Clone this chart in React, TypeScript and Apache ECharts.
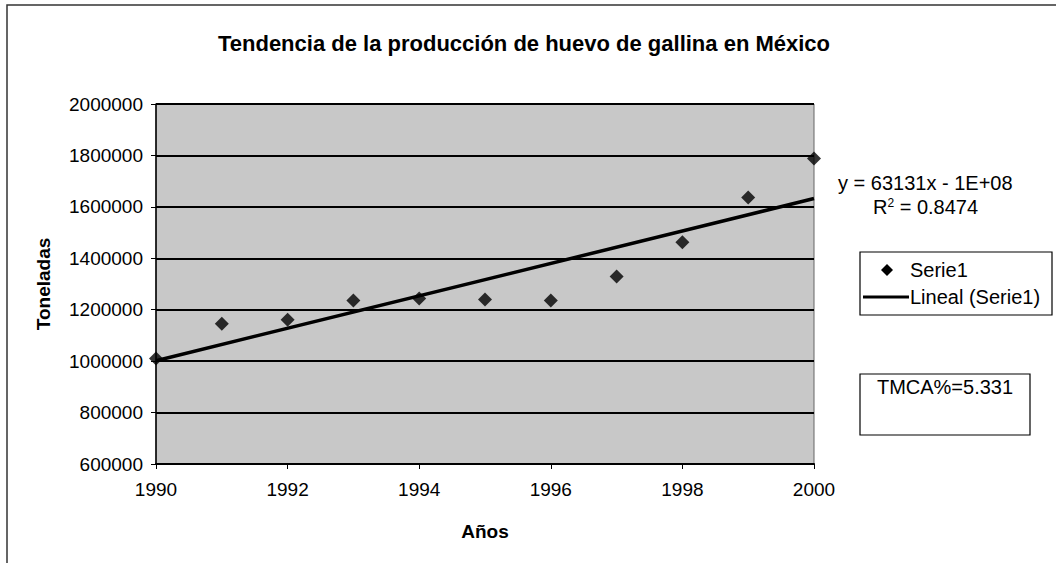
import React, { useEffect, useRef } from "react";
import * as echarts from "echarts";

const years = [1990, 1991, 1992, 1993, 1994, 1995, 1996, 1997, 1998, 1999, 2000];
const production = [1010000, 1145000, 1161000, 1236000, 1244000, 1240000, 1236000, 1329000, 1462000, 1636000, 1788000];
const equationText = "y = 63131x - 1E+08";
const r2Value = "0.8474";
const tmcaLabel = "TMCA%=5.331";
const seriesName = "Serie1";
const trendName = "Lineal (Serie1)";

function linearFit(xs: number[], ys: number[]) {
  const n = xs.length;
  const mx = xs.reduce((a, b) => a + b, 0) / n;
  const my = ys.reduce((a, b) => a + b, 0) / n;
  let num = 0;
  let den = 0;
  for (let i = 0; i < n; i++) {
    num += (xs[i] - mx) * (ys[i] - my);
    den += (xs[i] - mx) * (xs[i] - mx);
  }
  const slope = num / den;
  const intercept = my - slope * mx;
  return { slope, intercept };
}

export default function App() {
  const ref = useRef<HTMLDivElement>(null);
  useEffect(() => {
    if (!ref.current) return;
    const chart = echarts.init(ref.current, undefined, { renderer: "svg" });
    const fit = linearFit(years, production);
    const x0 = years[0];
    const x1 = years[years.length - 1];
    const trend = [
      [x0, fit.slope * x0 + fit.intercept],
      [x1, fit.slope * x1 + fit.intercept],
    ];
    const font = "'Liberation Sans', Arial, sans-serif";
    chart.setOption({
      animation: false,
      backgroundColor: "#ffffff",
      textStyle: { fontFamily: font },
      title: {
        text: "Tendencia de la producción de huevo de gallina en México",
        left: 519,
        textAlign: "center",
        top: 27,
        textStyle: { fontSize: 22, fontWeight: "bold", color: "#000", fontFamily: font },
      },
      grid: {
        left: 156,
        right: 242,
        top: 104,
        bottom: 99,
        show: true,
        backgroundColor: "#c8c8c8",
        borderColor: "#666",
        borderWidth: 1,
      },
      legend: { show: false },
      xAxis: {
        type: "value",
        min: 1990,
        max: 2000,
        interval: 2,
        name: "Años",
        nameLocation: "middle",
        nameGap: 58,
        nameTextStyle: { fontSize: 19, fontWeight: "bold", color: "#000", fontFamily: font },
        axisLine: { show: true, lineStyle: { color: "#000", width: 2 } },
        axisTick: { show: true, inside: false, length: 5, lineStyle: { color: "#000", width: 1 } },
        axisLabel: { fontSize: 19, color: "#000", margin: 16, formatter: (v: number) => String(v), fontFamily: font },
        splitLine: { show: false },
      },
      yAxis: {
        type: "value",
        min: 600000,
        max: 2000000,
        interval: 200000,
        name: "Toneladas",
        nameLocation: "middle",
        nameGap: 103,
        nameRotate: 90,
        nameTextStyle: { fontSize: 19, fontWeight: "bold", color: "#000", fontFamily: font },
        axisLine: { show: true, lineStyle: { color: "#000", width: 1.5 } },
        axisTick: { show: true, inside: false, length: 5, lineStyle: { color: "#000", width: 1 } },
        axisLabel: { fontSize: 19, color: "#000", margin: 13, formatter: (v: number) => String(v), fontFamily: font },
        splitLine: { show: true, lineStyle: { color: "#000", width: 2 } },
      },
      series: [
        {
          name: seriesName,
          type: "scatter",
          symbol: "diamond",
          symbolSize: 14,
          itemStyle: { color: "#000" },
          data: years.map((y, i) => [y, production[i]]),
          z: 3,
        },
        {
          name: trendName,
          type: "line",
          symbol: "none",
          lineStyle: { color: "#000", width: 3.5 },
          itemStyle: { color: "#000" },
          data: trend,
          z: 2,
        },
      ],
      graphic: [
        {
          type: "rect",
          shape: { x: 7, y: 5, width: 1100, height: 620 },
          style: { fill: "none", stroke: "#333", lineWidth: 1.5 },
          silent: true,
          z: -1,
        },
        {
          type: "text",
          x: 838,
          y: 183,
          style: { text: equationText, fill: "#000", font: `20px ${font}`, textVerticalAlign: "middle" },
        },
        {
          type: "text",
          x: 873,
          y: 207,
          style: {
            text: "{a|R}{s|2}{a| = " + r2Value + "}",
            fill: "#000",
            textVerticalAlign: "middle",
            rich: {
              a: { fontSize: 20, fontFamily: font, fill: "#000", verticalAlign: "bottom" },
              s: { fontSize: 12, fontFamily: font, fill: "#000", verticalAlign: "top", padding: [0, 0, 6, 0] },
            },
          },
        },
        {
          type: "group",
          children: [
            {
              type: "rect",
              shape: { x: 860, y: 252, width: 192, height: 63 },
              style: { fill: "#fff", stroke: "#000", lineWidth: 1.2 },
            },
            {
              type: "polygon",
              shape: { points: [[887, 264], [893, 270], [887, 276], [881, 270]] },
              style: { fill: "#000" },
            },
            {
              type: "text",
              x: 910,
              y: 270,
              style: { text: seriesName, fill: "#000", font: `20px ${font}`, textVerticalAlign: "middle" },
            },
            {
              type: "line",
              shape: { x1: 863, y1: 297, x2: 909, y2: 297 },
              style: { stroke: "#000", lineWidth: 3 },
            },
            {
              type: "text",
              x: 910,
              y: 297,
              style: { text: trendName, fill: "#000", font: `20px ${font}`, textVerticalAlign: "middle" },
            },
          ],
        },
        {
          type: "rect",
          shape: { x: 860, y: 374, width: 170, height: 61 },
          style: { fill: "#fff", stroke: "#000", lineWidth: 1.2 },
        },
        {
          type: "text",
          x: 945,
          y: 387,
          style: { text: tmcaLabel, fill: "#000", font: `20px ${font}`, textAlign: "center", textVerticalAlign: "middle" },
        },
      ],
    });
    return () => chart.dispose();
  }, []);
  return (
    <div
      ref={ref}
      style={{ position: "fixed", left: 0, top: 0, width: 1056, height: 563 }}
    />
  );
}
